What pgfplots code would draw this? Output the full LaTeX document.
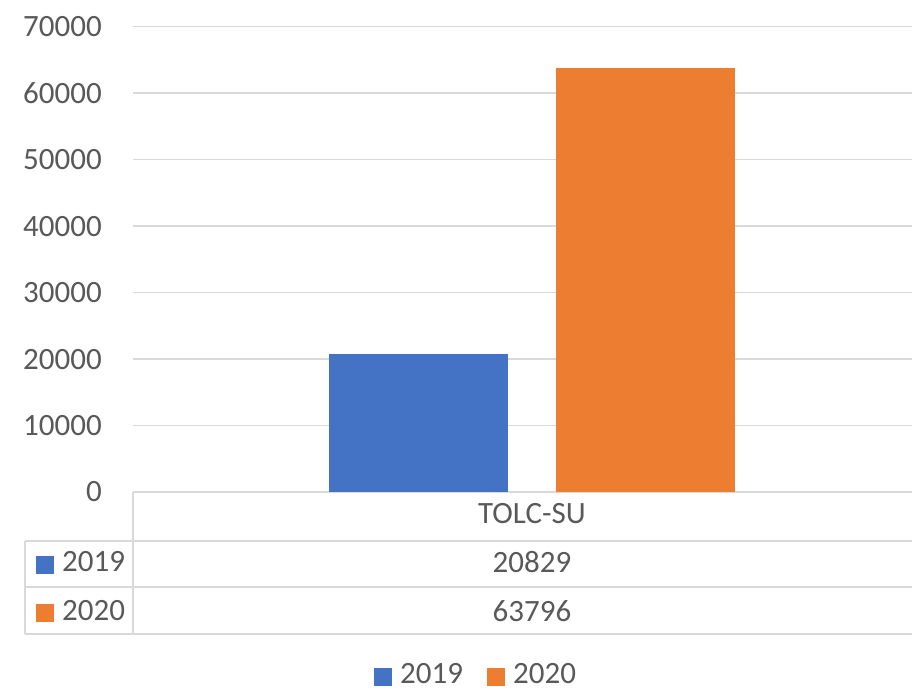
\documentclass[border=0pt]{standalone}
\usepackage{fontspec}
\setmainfont{Carlito}
\usepackage{pgfplots}
\pgfplotsset{compat=1.18}
\definecolor{bblue}{HTML}{4472C4}
\definecolor{borange}{HTML}{ED7D31}
\definecolor{txt}{HTML}{595959}
\definecolor{gridc}{HTML}{D9D9D9}
\begin{document}
\fontsize{31}{37}\selectfont
\begin{tikzpicture}[x=1pt,y=1pt]
\fill[white] (0,0) rectangle (912,689);
\useasboundingbox (0,0) rectangle (912,689);
\begin{axis}[
    at={(133pt,197pt)}, anchor=south west,
    scale only axis, width=798pt, height=465.3pt,
    xmin=-1, xmax=1, ymin=0, ymax=70000,
    ytick={0,10000,...,70000}, xtick=\empty,
    ymajorgrids, grid style={gridc, line width=1.4pt},
    axis line style={draw=none},
    major tick length=0pt,
    ybar=48pt, bar width=179pt,
    scaled y ticks=false,
    /pgf/number format/assume math mode=true,
    yticklabel style={text=txt, font=\fontsize{31}{37}\selectfont,
        inner sep=0pt, xshift=-31pt, /pgf/number format/1000 sep={}},
    clip=false,
]
\addplot[fill=bblue, draw=none] coordinates {(0,20829)};
\addplot[fill=borange, draw=none] coordinates {(0,63796)};
\end{axis}
% data table
\begin{scope}[gridc, line width=1.4pt]
\draw (25,148) -- (931,148);
\draw (25,102) -- (931,102);
\draw (25,55) -- (931,55);
\draw (133,197) -- (133,55);
\draw (25,148) -- (25,55);
\end{scope}
\begin{scope}[every node/.style={text=txt, inner sep=0pt}]
\node at (532,175.5) {TOLC-SU};
\node at (532,126.5) {20829};
\node at (532,78) {63796};
\fill[bblue] (36,115) rectangle (54,133);
\node[anchor=west] at (62,127) {2019};
\fill[borange] (36,67) rectangle (54,85);
\node[anchor=west] at (62,78.5) {2020};
% legend
\fill[bblue] (374,3.5) rectangle (392,21.5);
\node[anchor=west] at (400,15.5) {2019};
\fill[borange] (487,3.5) rectangle (505,21.5);
\node[anchor=west] at (513,15.5) {2020};
\end{scope}
\end{tikzpicture}
\end{document}
